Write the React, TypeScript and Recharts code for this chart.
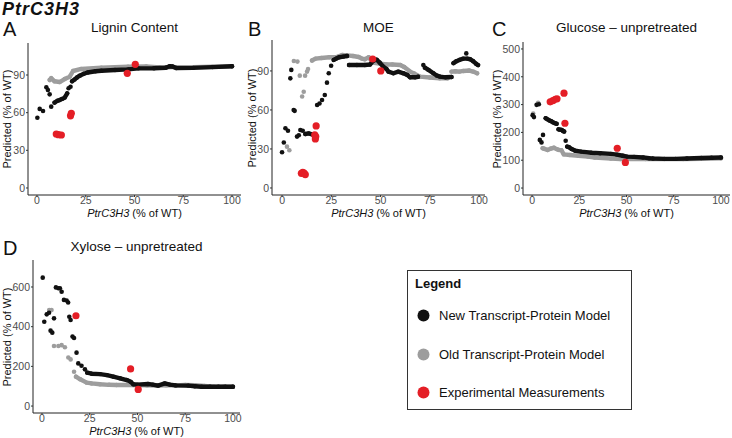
import { ScatterChart, Scatter, XAxis, YAxis } from "recharts";

type P = [number, number];

const FONT = "'Liberation Sans', Arial, Helvetica, sans-serif";
const BLACK = "#111111";
const GRAY = "#9d9d9d";
const RED = "#e41e26";

const xTicks = [0, 25, 50, 75, 100];

// A: Lignin content
const ligninTicks = [0, 30, 60, 90];
const ligninNewDots: P[] = [
  [0.2, 56], [1.4, 63], [3.1, 61.3], [4.8, 80.2], [5.6, 78], [6.5, 74.6], [7.3, 64.8],
  [16.2, 79.4], [17.2, 80.7],
];
const ligninNewLines: P[][] = [
  [[9, 68], [10.5, 69.5], [11.6, 70], [13, 71], [14.2, 72], [15.5, 75.4]],
  [
    [18, 85], [19.3, 86.5], [20.5, 88], [21.9, 89.5], [24, 91], [26, 92], [30, 93], [33, 93.4],
    [40, 94], [46.7, 94.5], [52, 95.3], [60, 95.4], [66, 95.8], [68, 97], [69.5, 96.8],
    [71.5, 95.5], [80, 95.7], [90, 96.3], [100, 97],
  ],
];
const ligninOldDots: P[] = [];
const ligninOldLines: P[][] = [
  [
    [6.5, 86], [7.3, 87.5], [9, 85], [11.6, 84.4], [14.2, 86.8], [16.8, 88.7], [18.5, 93.2],
    [22.7, 94.8], [33, 95.8], [46.7, 96.6], [56, 96.8], [63, 96], [70, 96.3], [80, 96.3],
    [90, 96.6], [100, 97],
  ],
];
const ligninExp: P[] = [
  [9.9, 43], [11, 42.5], [12.5, 42.2], [17.2, 57.5], [17.6, 59.5], [46.3, 91.3], [50.4, 98.5],
];

// B: MOE
const moeTicks = [0, 30, 60, 90];
const moeNewDots: P[] = [
  [0, 27.5], [0.9, 35], [1.7, 45.9], [3, 44], [4.2, 84.3], [4.7, 90.8], [5.9, 60], [6.4, 59.3],
  [7.6, 39.5], [8.5, 40.5], [9.3, 44.6], [10.5, 44], [17.8, 63.8], [19, 65], [20.3, 67.7],
  [21.7, 71.5], [22.8, 81], [23.7, 88.2], [24.9, 94], [71.7, 94.6], [93.5, 103.5],
];
const moeNewLines: P[][] = [
  [[11.8, 41.5], [13.5, 42], [15.2, 41.3], [16.5, 40.5]],
  [[26.2, 98.5], [27.5, 99.5], [29, 100.5], [31, 101], [33, 101.5]],
  [
    [34, 94.6], [38, 94.6], [42, 94.6], [44.7, 95], [46.3, 97.9], [48, 98.7], [49.5, 96.5],
    [51.4, 93.3], [53, 91.5], [54, 89.5], [56.5, 88.2], [59, 89.5], [61.6, 88.2], [63.5, 87],
    [65, 85.1], [67.5, 85.1], [69, 85.5],
  ],
  [[72.5, 92.5], [74.3, 90.8], [76.8, 88.2], [78.5, 86.5], [80.2, 85.6], [83, 85.1], [86, 85.3]],
  [[87, 96], [88.5, 97.5], [90, 98.5], [92, 99.5], [94, 99.5], [95.5, 99], [97, 97.5], [98.5, 95.5], [99.5, 94.5]],
];
const moeOldDots: P[] = [
  [2.5, 31.8], [3.7, 29], [6, 97.7], [7.8, 97.2], [9, 86.4], [10.2, 70.3], [11, 74],
  [11.7, 86.4], [12.7, 89.5], [13.2, 91.5],
];
const moeOldLines: P[][] = [
  [
    [15.2, 98], [17, 99.5], [20, 100], [24, 100.5], [28, 100.8], [30.5, 102.3], [33, 102],
    [36, 101.5], [38.9, 100.7], [40.5, 99.5], [42, 99], [44, 100.5], [46, 96.5], [50, 95.5],
    [53, 95], [56, 95], [60, 94.6], [62, 93], [65, 89.5], [67, 88], [70, 85.6], [75, 85],
    [80, 84.4], [84, 84.4],
  ],
  [[86, 89.5], [88, 89.8], [90, 89.5], [92, 90], [95, 90.3], [97, 89.5], [99, 88.2]],
];
const moeExp: P[] = [
  [9.8, 11.3], [10.5, 12], [11.2, 11.5], [11.8, 10.3], [16.6, 40.8], [16.9, 37.7],
  [17.1, 39.5], [17.3, 47.7], [46, 99.2], [50.1, 90],
];

// C: Glucose - unpretreated
const glucoseTicks = [0, 100, 200, 300, 400, 500];
const glucoseNewDots: P[] = [
  [0.3, 262], [1, 255], [2.4, 299], [3.6, 301], [4.1, 173], [5, 164], [5.8, 191], [17.8, 170],
];
const glucoseNewLines: P[][] = [
  [[7.2, 251], [8.2, 247], [9.2, 243], [10.2, 240], [11.2, 236], [12.2, 233], [13, 231]],
  [[14, 211], [14.8, 210], [15.7, 209], [16.4, 205], [17, 203]],
  [
    [18.6, 149], [19.5, 147], [21, 140], [22.9, 134], [26, 131], [31.4, 127], [36, 125],
    [41.7, 123], [45, 120], [48, 116], [50.3, 113], [54, 112], [58.8, 110], [62, 107],
    [64, 106], [70, 105], [76, 105], [82, 106], [89.6, 108], [95, 109], [100, 110],
  ],
];
const glucoseOldDots: P[] = [[0.6, 268], [3.2, 306]];
const glucoseOldLines: P[][] = [
  [
    [5.6, 143], [6.5, 141], [8.2, 137], [10, 142], [11.6, 145], [13, 140], [14.2, 137],
    [15.5, 136], [16.8, 121], [20, 119], [24.6, 116], [29.6, 113], [33.2, 110], [41.7, 106],
    [46.7, 104], [50, 104], [60, 104], [70, 104], [80, 104], [90, 105], [100, 107],
  ],
];
const glucoseExp: P[] = [
  [9.6, 310], [11, 314], [12.3, 319], [13.2, 321], [16.9, 341], [17.4, 233], [45.1, 143], [49.4, 92],
];

// D: Xylose - unpretreated
const xyloseTicks = [0, 200, 400, 600];
const xyloseNewDots: P[] = [
  [0.4, 647], [1.2, 425], [2.5, 462], [3.7, 470], [4.5, 380], [5.4, 370], [6.3, 442],
  [7.3, 598], [8.6, 594], [9.4, 594], [10.3, 576], [11.5, 535], [12.9, 532], [13.7, 522],
  [14.3, 450], [15, 434], [16, 350], [16.8, 343], [18.1, 269], [19, 215], [20.7, 203], [22.5, 185],
];
const xyloseNewLines: P[][] = [
  [
    [23.7, 168], [26, 163], [30.4, 161], [34, 156], [37.4, 148], [40.9, 140], [44.4, 131],
    [46.5, 122], [47.8, 110], [50, 108], [55.5, 111], [58, 108], [60.8, 103], [64.3, 114],
    [67, 108], [70, 104], [76.6, 103], [80, 100], [83.6, 97], [88, 97], [92.4, 97], [96, 98], [100, 97],
  ],
];
const xyloseOldDots: P[] = [
  [3.8, 484], [5, 484], [6.3, 303], [8.6, 303], [10.3, 307], [12, 296], [13.8, 245], [15, 235], [16.8, 173],
];
const xyloseOldLines: P[][] = [
  [
    [17.8, 148], [20, 135], [23.4, 118], [26, 114], [30.4, 110], [35, 107], [39, 106],
    [47.8, 106], [55, 104], [60, 103], [65, 104], [70, 104], [75, 106], [80, 105], [85, 101],
    [90, 98], [95, 97], [100, 97],
  ],
];
const xyloseExp: P[] = [[17.8, 455], [46.4, 187], [50.4, 84]];

const legendItems = [
  { label: "New Transcript-Protein Model", color: BLACK },
  { label: "Old Transcript-Protein Model", color: GRAY },
  { label: "Experimental Measurements", color: RED },
];

const toObj = (a: P[]) => a.map(([x, y]) => ({ x, y }));
const dot = (color: string, r: number) => (p: any) =>
  <circle cx={p.cx} cy={p.cy} r={r} fill={color} />;

type Box = { l: number; t: number; r: number; b: number };

function Txt({ x, y, children, size, weight, italic, rotate, anchor = "middle", color = "#111" }: any) {
  return (
    <div
      style={{
        position: "absolute",
        left: x,
        top: y,
        transform: `translate(${anchor === "middle" ? "-50%" : "0"}, -50%)${rotate ? ` rotate(${rotate}deg)` : ""}`,
        fontFamily: FONT,
        fontSize: size,
        fontWeight: weight ?? 400,
        fontStyle: italic ? "italic" : "normal",
        lineHeight: 1,
        whiteSpace: "nowrap",
        color,
      }}
    >
      {children}
    </div>
  );
}

function Panel(props: {
  box: Box; xDomain: number[]; yDomain: number[]; yTicks: number[]; yGap: number;
  title: string; letter: string; letterX: number; titleY: number;
  newDots: P[]; newLines: P[][]; oldDots: P[]; oldLines: P[][]; exp: P[];
}) {
  const { box, xDomain, yDomain, yTicks, yGap, title, letter, letterX, titleY } = props;
  const L = 40, R = 6, T = 6, B = 30;
  const w = box.r - box.l;
  const h = box.b - box.t;
  const cx = (box.l + box.r) / 2;
  const tick = { fontSize: 10.5, fill: "#4d4d4d", fontFamily: FONT };
  const lineStyle = (c: string) => ({ stroke: c, strokeWidth: 4.4, strokeLinejoin: "round", strokeLinecap: "round" });
  return (
    <>
      <div style={{ position: "absolute", left: box.l - L, top: box.t - T }}>
        <ScatterChart width={w + L + R} height={h + T + B} margin={{ top: T, right: R, left: 0, bottom: 0 }}>
          <XAxis
            type="number" dataKey="x" domain={xDomain} ticks={xTicks} allowDataOverflow
            height={B} tickSize={2} tickMargin={0} tick={tick}
            axisLine={{ stroke: "#222" }} tickLine={{ stroke: "#333" }}
          />
          <YAxis
            type="number" dataKey="y" domain={yDomain} ticks={yTicks} allowDataOverflow
            width={L} tickSize={2} tickMargin={1} tick={tick}
            axisLine={{ stroke: "#222" }} tickLine={{ stroke: "#333" }}
          />
          {props.oldLines.map((seg, i) => (
            <Scatter key={"ol" + i} data={toObj(seg)} fill={GRAY} line={lineStyle(GRAY)}
              shape={dot(GRAY, 2.2)} isAnimationActive={false} />
          ))}
          <Scatter data={toObj(props.oldDots)} fill={GRAY} shape={dot(GRAY, 2.3)} isAnimationActive={false} />
          {props.newLines.map((seg, i) => (
            <Scatter key={"nl" + i} data={toObj(seg)} fill={BLACK} line={lineStyle(BLACK)}
              shape={dot(BLACK, 2.2)} isAnimationActive={false} />
          ))}
          <Scatter data={toObj(props.newDots)} fill={BLACK} shape={dot(BLACK, 2.3)} isAnimationActive={false} />
          <Scatter data={toObj(props.exp)} fill={RED} shape={dot(RED, 3.6)} isAnimationActive={false} />
        </ScatterChart>
      </div>
      <Txt x={cx} y={titleY} size={13.5}>{title}</Txt>
      <Txt x={letterX} y={titleY + 1} size={20} anchor="start">{letter}</Txt>
      <Txt x={box.l - yGap} y={(box.t + box.b) / 2} size={11} rotate={-90}>Predicted (% of WT)</Txt>
      <Txt x={cx} y={box.b + 18} size={11}>
        <span style={{ fontStyle: "italic" }}>PtrC3H3</span> (% of WT)
      </Txt>
    </>
  );
}

export default function App() {
  return (
    <div style={{ position: "absolute", left: 0, top: 0, width: 732, height: 438, overflow: "hidden", background: "#fff" }}>
      <Txt x={2} y={9} size={18} weight={700} italic anchor="start">
        <span style={{ letterSpacing: 1 }}>PtrC3H3</span>
      </Txt>
      <Panel
        box={{ l: 28, t: 43, r: 241, b: 195 }} xDomain={[-4.6, 104.6]} yDomain={[-5.6, 115.5]}
        yTicks={ligninTicks} yGap={21} title="Lignin Content" letter="A" letterX={3} titleY={28}
        newDots={ligninNewDots} newLines={ligninNewLines} oldDots={ligninOldDots} oldLines={ligninOldLines} exp={ligninExp}
      />
      <Panel
        box={{ l: 272, t: 40, r: 485, b: 195 }} xDomain={[-5.1, 103]} yDomain={[-5.4, 113.8]}
        yTicks={moeTicks} yGap={20.5} title="MOE" letter="B" letterX={248} titleY={28}
        newDots={moeNewDots} newLines={moeNewLines} oldDots={moeOldDots} oldLines={moeOldLines} exp={moeExp}
      />
      <Panel
        box={{ l: 523, t: 42, r: 730, b: 195 }} xDomain={[-4.8, 104.8]} yDomain={[-25, 525]}
        yTicks={glucoseTicks} yGap={26.5} title="Glucose – unpretreated" letter="C" letterX={492} titleY={28}
        newDots={glucoseNewDots} newLines={glucoseNewLines} oldDots={glucoseOldDots} oldLines={glucoseOldLines} exp={glucoseExp}
      />
      <Panel
        box={{ l: 33, t: 260, r: 240, b: 413 }} xDomain={[-4.7, 103.7]} yDomain={[-35, 736]}
        yTicks={xyloseTicks} yGap={26} title="Xylose – unpretreated" letter="D" letterX={3} titleY={247}
        newDots={xyloseNewDots} newLines={xyloseNewLines} oldDots={xyloseOldDots} oldLines={xyloseOldLines} exp={xyloseExp}
      />
      <div
        style={{
          position: "absolute", left: 407, top: 270, width: 225, height: 140, boxSizing: "border-box",
          border: "1.5px solid #333", fontFamily: FONT, color: "#111",
        }}
      >
        <div style={{ position: "absolute", left: 7, top: 5, fontSize: 13, fontWeight: 700 }}>Legend</div>
        {legendItems.map((it, i) => (
          <div key={it.label} style={{ position: "absolute", left: 9, top: 37 + i * 38.5, display: "flex", alignItems: "center", fontSize: 13 }}>
            <svg width={13} height={13} style={{ marginRight: 9 }}>
              <circle cx={6.5} cy={6.5} r={6} fill={it.color} />
            </svg>
            {it.label}
          </div>
        ))}
      </div>
    </div>
  );
}
